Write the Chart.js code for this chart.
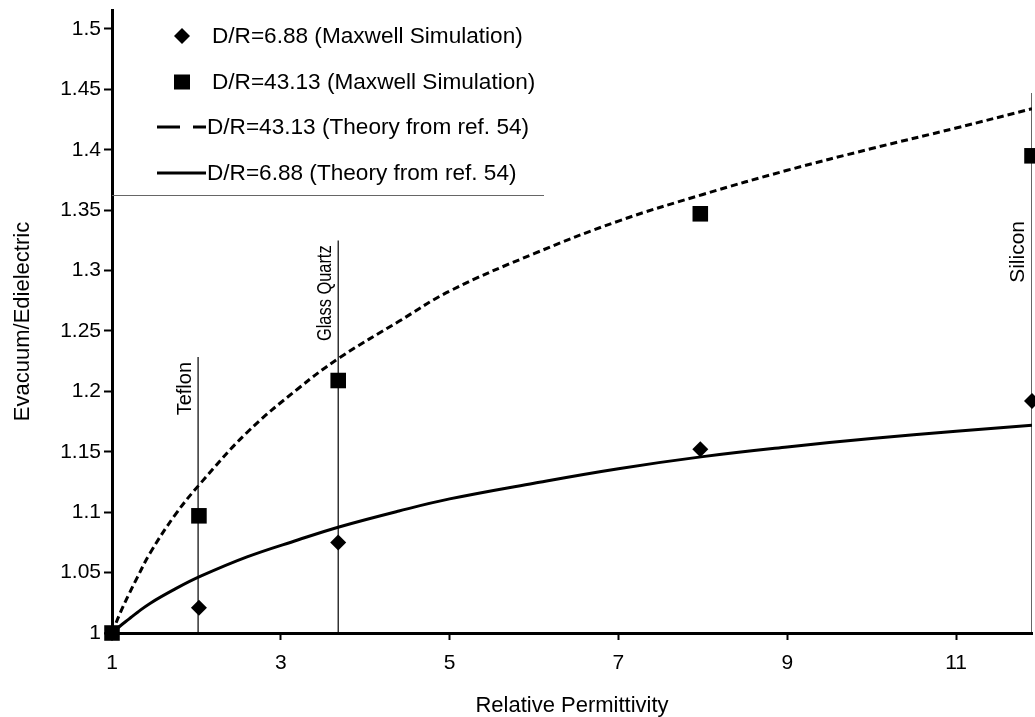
<!DOCTYPE html>
<html><head><meta charset="utf-8">
<script src="https://cdn.jsdelivr.net/npm/chart.js@4.4.1/dist/chart.umd.min.js"></script>
<style>html,body{margin:0;padding:0;background:#fff;} canvas{display:block;}</style>
</head><body>
<canvas id="c" width="1035" height="717"></canvas>
<script>
// ---- data ----
const simX = [1, 2.03, 3.68, 7.97, 11.9];
const sim688 = [1, 1.021, 1.075, 1.152, 1.192];
const sim4313 = [1, 1.097, 1.209, 1.347, 1.395];
const theoryX = [1, 1.1, 1.2, 1.3, 1.45, 1.75, 2.05, 2.6, 3.2, 3.7, 4.4, 5, 6, 7, 8, 9, 10, 11, 11.9];
const theory4313 = [1, 1.017, 1.032, 1.046, 1.066, 1.098, 1.124, 1.166, 1.202, 1.228, 1.258, 1.283, 1.314, 1.341, 1.363, 1.383, 1.401, 1.418, 1.434];
const theory688 = [1, 1.006, 1.0115, 1.017, 1.0245, 1.0365, 1.047, 1.063, 1.077, 1.088, 1.101, 1.111, 1.124, 1.136, 1.146, 1.154, 1.161, 1.167, 1.172];
const materials = ['Teflon', 'Glass Quartz', 'Silicon'];
const materialX = [2.02, 3.68, 11.9];
const materialTop = [1.2285, 1.325, 1.447];
const xTicks = [1, 3, 5, 7, 9, 11];
const xTickLabels = ['1', '3', '5', '7', '9', '11'];
const yTicks = [1, 1.05, 1.1, 1.15, 1.2, 1.25, 1.3, 1.35, 1.4, 1.45, 1.5];
const yTickLabels = ['1', '1.05', '1.1', '1.15', '1.2', '1.25', '1.3', '1.35', '1.4', '1.45', '1.5'];
const legendLabels = ['D/R=6.88 (Maxwell Simulation)', 'D/R=43.13 (Maxwell Simulation)', 'D/R=43.13 (Theory from ref. 54)', 'D/R=6.88 (Theory from ref. 54)'];
const xTitle = 'Relative Permittivity';
const yTitle = 'Evacuum/Edielectric';

const FONT = "'Liberation Sans', Arial, Helvetica, sans-serif";
const zip = (xs, ys) => xs.map((x, i) => ({x: x, y: ys[i]}));

const datasets = [
  {label: legendLabels[0], data: zip(simX, sim688), showLine: false, pointStyle: 'rectRot', pointRadius: 8,
   backgroundColor: '#000', borderColor: '#000', borderWidth: 0, order: 1, clip: false},
  {label: legendLabels[1], data: zip(simX, sim4313), showLine: false, pointStyle: 'rect', pointRadius: 11,
   backgroundColor: '#000', borderColor: '#000', borderWidth: 0, order: 0, clip: false},
  {label: legendLabels[2], data: zip(theoryX, theory4313), showLine: true, pointRadius: 0, borderColor: '#000',
   borderWidth: 3, borderDash: [7, 4], tension: 0.4, fill: false, order: 3},
  {label: legendLabels[3], data: zip(theoryX, theory688), showLine: true, pointRadius: 0, borderColor: '#000',
   borderWidth: 3, tension: 0.4, fill: false, order: 4}
];
materials.forEach((m, i) => {
  datasets.push({label: m, data: [{x: materialX[i], y: 1}, {x: materialX[i], y: materialTop[i]}], showLine: true,
    pointRadius: 0, borderColor: '#000', borderWidth: 1.2, tension: 0, fill: false, order: 5});
});

// label styling (px offset below the line top, font size, horizontal squeeze along the text)
const labelStyle = [{off: 5, size: 20, sq: 1}, {off: 5, size: 20, sq: 0.82}, {off: 128, size: 21, sq: 1}];

const overlay = {
  id: 'overlay',
  afterDatasetsDraw(chart) {
    const ctx = chart.ctx, xs = chart.scales.x, ys = chart.scales.y, ca = chart.chartArea;
    ctx.save();
    ctx.fillStyle = '#000';
    materials.forEach((m, i) => {
      const px = xs.getPixelForValue(materialX[i]);
      const py = ys.getPixelForValue(materialTop[i]);
      ctx.save();
      ctx.font = labelStyle[i].size + 'px ' + FONT;
      ctx.translate(px, py + labelStyle[i].off);
      ctx.rotate(-Math.PI / 2);
      ctx.scale(labelStyle[i].sq, 1);
      ctx.textAlign = 'right';
      ctx.textBaseline = 'bottom';
      ctx.fillText(m, 0, -3);
      ctx.restore();
    });
    ctx.restore();
    // legend
    ctx.save();
    const L = ca.left + 2, T = ca.top, R = ca.left + 432, B = 195;
    ctx.fillStyle = '#fff';
    ctx.fillRect(L, T, R - L, B - T);
    ctx.strokeStyle = '#666';
    ctx.lineWidth = 1;
    ctx.beginPath(); ctx.moveTo(ca.left, B + 0.5); ctx.lineTo(R, B + 0.5); ctx.stroke();
    const rows = [36, 82, 127, 173];
    const mx = ca.left + 70;
    ctx.fillStyle = '#000';
    ctx.beginPath();
    ctx.moveTo(mx, rows[0] - 8); ctx.lineTo(mx + 8, rows[0]); ctx.lineTo(mx, rows[0] + 8); ctx.lineTo(mx - 8, rows[0]);
    ctx.closePath(); ctx.fill();
    ctx.fillRect(mx - 8, rows[1] - 7.5, 16, 15);
    ctx.strokeStyle = '#000';
    ctx.lineWidth = 3;
    ctx.setLineDash([23, 13]);
    ctx.beginPath(); ctx.moveTo(ca.left + 45, rows[2]); ctx.lineTo(ca.left + 94, rows[2]); ctx.stroke();
    ctx.setLineDash([]);
    ctx.beginPath(); ctx.moveTo(ca.left + 45, rows[3]); ctx.lineTo(ca.left + 94, rows[3]); ctx.stroke();
    ctx.font = '22.6px ' + FONT;
    ctx.textBaseline = 'middle';
    ctx.textAlign = 'left';
    ctx.fillText(legendLabels[0], ca.left + 100, rows[0] + 1);
    ctx.fillText(legendLabels[1], ca.left + 100, rows[1] + 1);
    ctx.fillText(legendLabels[2], ca.left + 95, rows[2] + 1);
    ctx.fillText(legendLabels[3], ca.left + 95, rows[3] + 1);
    ctx.restore();
  }
};

new Chart(document.getElementById('c'), {
  type: 'scatter',
  data: {datasets: datasets},
  options: {
    responsive: false,
    animation: false,
    layout: {autoPadding: false, padding: {top: 10, right: 3, left: 0, bottom: 0}},
    plugins: {legend: {display: false}, tooltip: {enabled: false}},
    scales: {
      x: {
        type: 'linear', min: 1, max: 11.9,
        afterBuildTicks: (axis) => { axis.ticks = xTicks.map(v => ({value: v})); },
        afterFit: (s) => { s.height = 84; s.paddingLeft = 0; s.paddingRight = 0; },
        ticks: {color: '#000', font: {family: FONT, size: 21}, padding: 11, maxRotation: 0,
                callback: (v, i) => xTickLabels[i]},
        grid: {display: true, drawOnChartArea: false, drawTicks: true, tickLength: 7, tickWidth: 2, tickColor: '#000'},
        border: {display: true, color: '#000', width: 3},
        title: {display: true, text: xTitle, color: '#000', font: {family: FONT, size: 22, lineHeight: 1}, padding: {top: 0, bottom: 0}}
      },
      y: {
        type: 'linear', min: 1, max: 1.5157,
        afterBuildTicks: (axis) => { axis.ticks = yTicks.map(v => ({value: v})); },
        afterFit: (s) => { s.width = 112; s.paddingTop = 0; s.paddingBottom = 0; },
        ticks: {color: '#000', font: {family: FONT, size: 21}, padding: 3,
                callback: (v, i) => yTickLabels[i]},
        grid: {display: true, drawOnChartArea: false, drawTicks: true, tickLength: 8, tickWidth: 2, tickColor: '#000'},
        border: {display: true, color: '#000', width: 3},
        title: {display: true, text: yTitle, color: '#000', font: {family: FONT, size: 22, lineHeight: 1}, padding: {top: 12, bottom: 0}}
      }
    }
  },
  plugins: [overlay]
});
</script>
</body></html>
